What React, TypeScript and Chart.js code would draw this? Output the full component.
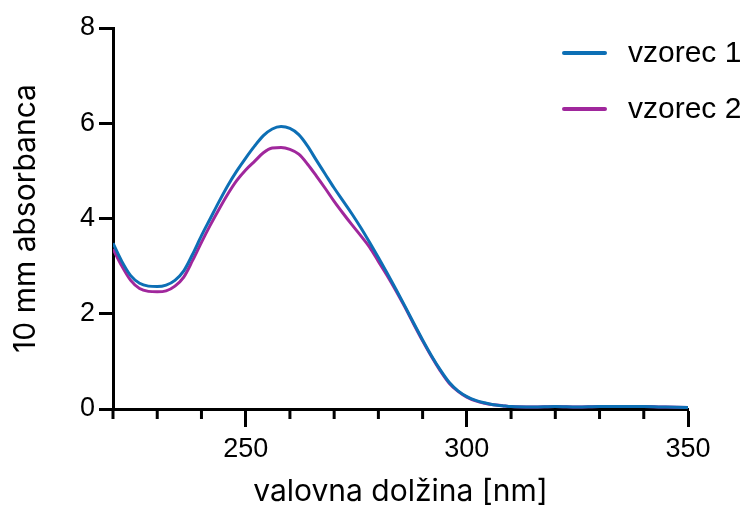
import React, { useEffect, useRef } from "react";
import { Chart, registerables } from "chart.js";

Chart.register(...registerables);

const wavelengths = [220, 222, 224, 226, 228, 230, 232, 234, 236, 238, 240, 242, 244, 246, 248, 250, 252, 254, 256, 258, 260, 262, 264, 266, 268, 270, 272, 274, 276, 278, 280, 282, 284, 286, 288, 290, 292, 294, 296, 298, 300, 302, 304, 306, 308, 310, 315, 320, 325, 330, 335, 340, 345, 350];

const sample1 = [3.48, 3.1, 2.8, 2.64, 2.58, 2.57, 2.6, 2.7, 2.9, 3.25, 3.64, 4.0, 4.36, 4.7, 5.0, 5.27, 5.52, 5.74, 5.88, 5.93, 5.89, 5.76, 5.52, 5.22, 4.93, 4.64, 4.37, 4.1, 3.81, 3.5, 3.18, 2.85, 2.51, 2.16, 1.8, 1.45, 1.12, 0.82, 0.56, 0.38, 0.26, 0.18, 0.13, 0.09, 0.07, 0.05, 0.04, 0.05, 0.04, 0.05, 0.05, 0.05, 0.04, 0.03];

const sample2 = [3.36, 3.0, 2.7, 2.53, 2.47, 2.46, 2.48, 2.58, 2.77, 3.12, 3.5, 3.86, 4.2, 4.52, 4.8, 5.02, 5.2, 5.38, 5.48, 5.49, 5.45, 5.35, 5.14, 4.89, 4.63, 4.36, 4.11, 3.87, 3.64, 3.4, 3.1, 2.8, 2.48, 2.14, 1.78, 1.43, 1.1, 0.8, 0.54, 0.37, 0.25, 0.17, 0.12, 0.09, 0.07, 0.05, 0.04, 0.05, 0.04, 0.05, 0.05, 0.05, 0.04, 0.03];

const seriesLabels = ["vzorec 1", "vzorec 2"];
const seriesColors = ["#0d6fb5", "#a0279c"];
const xTitle = "valovna dolžina [nm]";
const yTitle = "10 mm absorbanca";

const tickFont = { family: "Liberation Sans, Arial, sans-serif", size: 27 };
const titleFont = { family: "Inter, sans-serif", size: 30 };

const minorTicks = {
  id: "minorTicks",
  afterDraw(chart: any) {
    const xs = chart.scales.x;
    const ctx = chart.ctx;
    ctx.save();
    ctx.strokeStyle = "#000";
    ctx.lineWidth = 3;
    xs.ticks.forEach((t: any, i: number) => {
      if (t.value % 50 !== 0) {
        const px = xs.getPixelForTick(i);
        ctx.beginPath();
        ctx.moveTo(px, xs.top);
        ctx.lineTo(px, xs.top + 10);
        ctx.stroke();
      }
    });
    ctx.restore();
  },
};

const customLegend = {
  id: "customLegend",
  afterDraw(chart: any) {
    const ctx = chart.ctx;
    ctx.save();
    chart.data.datasets.forEach((ds: any, i: number) => {
      const y = 53 + i * 56;
      ctx.strokeStyle = ds.borderColor;
      ctx.lineWidth = 4;
      ctx.lineCap = "round";
      ctx.beginPath();
      ctx.moveTo(564, y);
      ctx.lineTo(605, y);
      ctx.stroke();
      ctx.fillStyle = "#000";
      ctx.font = "30px Liberation Sans, Arial, sans-serif";
      ctx.textBaseline = "middle";
      ctx.textAlign = "left";
      ctx.fillText(ds.label, 628, y + 1);
    });
    ctx.restore();
  },
};

export default function App() {
  const ref = useRef<HTMLCanvasElement>(null);
  useEffect(() => {
    if (!ref.current) return;
    const chart = new Chart(ref.current, {
      type: "line",
      data: {
        datasets: [sample1, sample2].map((vals, i) => ({
          label: seriesLabels[i],
          data: wavelengths.map((w, j) => ({ x: w, y: vals[j] })),
          borderColor: seriesColors[i],
          backgroundColor: seriesColors[i],
          borderWidth: 3,
          pointRadius: 0,
          cubicInterpolationMode: "monotone" as const,
          fill: false,
        })),
      },
      plugins: [minorTicks, customLegend],
      options: {
        animation: false,
        responsive: false,
        maintainAspectRatio: false,
        layout: { padding: { top: 28, right: 62, left: 0, bottom: 0 } },
        plugins: { legend: { display: false }, tooltip: { enabled: false } },
        scales: {
          x: {
            type: "linear",
            min: 220,
            max: 350,
            afterFit: (s: any) => {
              s.height = 101;
            },
            ticks: {
              stepSize: 10,
              autoSkip: false,
              maxRotation: 0,
              color: "#000",
              font: tickFont,
              padding: 6,
              callback: (v: any) => (Number(v) % 50 === 0 ? String(v) : ""),
            },
            grid: {
              drawOnChartArea: false,
              tickLength: 18,
              tickWidth: 3,
              tickColor: (c: any) => (c.tick && c.tick.value % 50 === 0 ? "#000" : "rgba(0,0,0,0)"),
            },
            border: { display: true, color: "#000", width: 3 },
            title: { display: true, text: xTitle, color: "#000", font: titleFont, padding: { top: 0, bottom: 0 } },
          },
          y: {
            min: 0,
            max: 8,
            afterFit: (s: any) => {
              s.width = 113;
            },
            ticks: { stepSize: 2, color: "#000", font: tickFont, padding: 4 },
            grid: { drawOnChartArea: false, tickLength: 14, tickWidth: 3, tickColor: "#000" },
            border: { display: true, color: "#000", width: 3 },
            title: { display: true, text: yTitle, color: "#000", font: titleFont, padding: { top: 8, bottom: 0 } },
          },
        },
      },
    });
    return () => chart.destroy();
  }, []);
  return (
    <div style={{ position: "fixed", left: 0, top: 0, width: 750, height: 510, background: "#fff" }}>
      <canvas ref={ref} width={750} height={510} style={{ width: 750, height: 510 }} />
    </div>
  );
}
